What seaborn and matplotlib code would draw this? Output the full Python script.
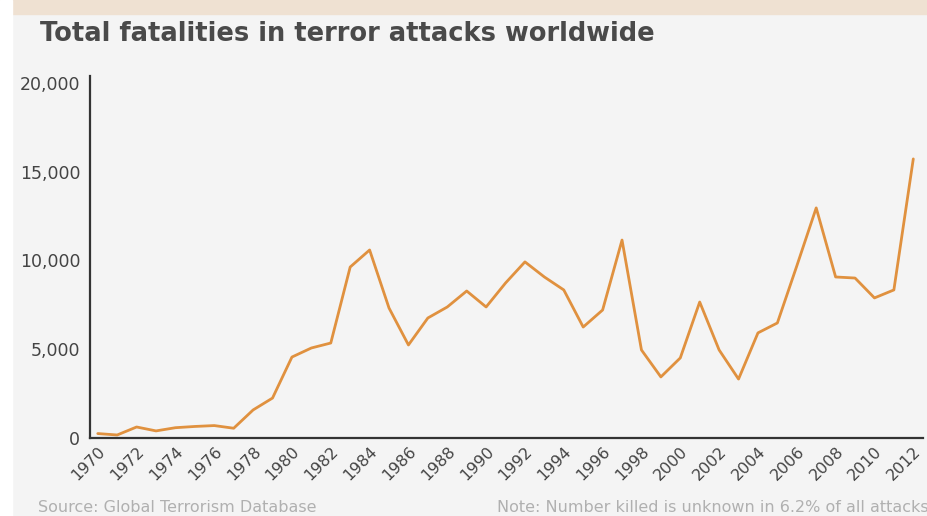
import matplotlib
matplotlib.use("Agg")
import matplotlib.pyplot as plt
import matplotlib.patches as patches
import seaborn as sns
import pandas as pd

# values
years = list(range(1970, 2013))
fatalities = [
    250, 170, 620, 400, 580, 650, 700, 550, 1580, 2250,
    4560, 5070, 5350, 9630, 10590, 7320, 5240, 6760, 7380, 8280,
    7380, 8730, 9920, 9070, 8340, 6250, 7210, 11150, 4960, 3440,
    4510, 7660, 4960, 3320, 5920, 6480, 9690, 12960, 9070, 9010,
    7890, 8340, 15720,
]
y_ticks = [0, 5000, 10000, 15000, 20000]
x_ticks = list(range(1970, 2013, 2))

title = "Total fatalities in terror attacks worldwide"
source = "Source: Global Terrorism Database"
note = "Note: Number killed is unknown in 6.2% of all attacks"

df = pd.DataFrame({"year": years, "killed": fatalities})

sns.set_style("white")
plt.rcParams["font.family"] = ["DejaVu Sans"]

fig = plt.figure(figsize=(9.28, 5.16), dpi=100)
fig.patch.set_facecolor("#f4f4f4")

# blurred photo strip at the top and white margin at the left
fig.add_artist(patches.Rectangle((0, 1 - 14 / 516), 1, 14 / 516, transform=fig.transFigure,
                                 color="#efe1d2", zorder=0))
fig.add_artist(patches.Rectangle((0, 0), 12 / 928, 1, transform=fig.transFigure,
                                 color="white", zorder=0))

ax = fig.add_axes([90 / 928, 1 - 438 / 516, 833 / 928, 362 / 516])
ax.set_facecolor("#f4f4f4")

sns.lineplot(data=df, x="year", y="killed", ax=ax, color="#e0913f", linewidth=2)

ax.set_xlim(1969.6, 2012.5)
ax.set_ylim(0, 20390)
ax.set_yticks(y_ticks)
ax.set_yticklabels([f"{v:,}" for v in y_ticks], fontsize=12.5, color="#444444")
ax.set_xticks(x_ticks)
ax.set_xticklabels([str(x) for x in x_ticks], fontsize=11.5, color="#444444",
                   rotation=45, ha="right", rotation_mode="anchor")
ax.tick_params(axis="both", length=0)
ax.tick_params(axis="y", pad=7)
ax.tick_params(axis="x", pad=4)
ax.set_xlabel("")
ax.set_ylabel("")

for side in ["top", "right"]:
    ax.spines[side].set_visible(False)
for side in ["left", "bottom"]:
    ax.spines[side].set_color("#333333")
    ax.spines[side].set_linewidth(1.6)

fig.text(40 / 928, 1 - 34 / 516, title, fontsize=18.5, fontweight="bold",
         color="#4a4a4a", va="center", ha="left")
fig.text(38 / 928, 1 - 507 / 516, source, fontsize=11.5, color="#b0b0b0",
         va="center", ha="left")
fig.text(929 / 928, 1 - 507 / 516, note, fontsize=11.5, color="#b0b0b0",
         va="center", ha="right")

fig.savefig("out.png", dpi=100, facecolor=fig.get_facecolor())
